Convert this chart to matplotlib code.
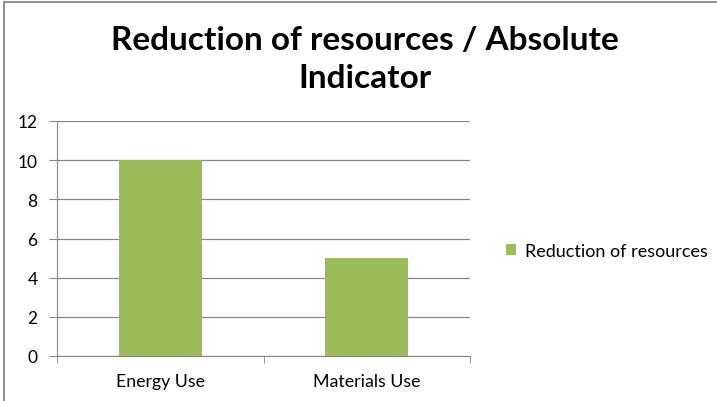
import matplotlib.pyplot as plt
from matplotlib.patches import Rectangle

# data
categories = ['Energy Use', 'Materials Use']
values = [10, 5]
series_name = 'Reduction of resources'
yticks = [0, 2, 4, 6, 8, 10, 12]

plt.rcParams['font.family'] = ['Lato', 'DejaVu Sans']

W, H = 717, 402
fig = plt.figure(figsize=(W / 100, H / 100), dpi=100)

# plot area in pixel coordinates
left, right, top, bottom = 57, 470, 122, 357
ax = fig.add_axes([left / W, 1 - bottom / H, (right - left) / W, (bottom - top) / H])

x = range(len(categories))
bars = ax.bar(x, values, width=0.4, color='#9BBB59', label=series_name, zorder=3)

ax.set_xlim(-0.5, len(categories) - 0.5)
ax.set_ylim(0, 12)
ax.set_yticks(yticks)
ax.set_xticks(list(x))
ax.set_xticklabels(categories, fontsize=12.8)
ax.tick_params(axis='x', length=0, pad=12)
ax.tick_params(axis='y', length=6, color='#868686', labelsize=12.5, pad=8)

# category boundary tick marks
ax.set_xticks([-0.5, 0.5, 1.5], minor=True)
ax.tick_params(axis='x', which='minor', length=5, color='#868686')

ax.grid(axis='y', color='#868686', linewidth=0.9, zorder=0)
for side in ['top', 'right']:
    ax.spines[side].set_visible(False)
ax.spines['left'].set_color('#868686')
ax.spines['bottom'].set_color('#868686')

fig.text(365 / W, 1 - 41 / H, 'Reduction of resources / Absolute', ha='center', va='center',
         fontsize=24, fontweight='bold')
fig.text(365 / W, 1 - 79 / H, 'Indicator', ha='center', va='center',
         fontsize=24, fontweight='bold')

fig.legend(handles=[bars], labels=[series_name], loc='center left',
           bbox_to_anchor=(490 / W, 1 - 252 / H), frameon=False, fontsize=13,
           handlelength=0.55, handleheight=0.55, handletextpad=0.5)

# outer chart border (left and top visible)
fig.patches.append(Rectangle((4 / W, -0.1), 1.2, 1 - 3 / H + 0.1, transform=fig.transFigure,
                             fill=False, edgecolor='#868686', linewidth=1.3))

fig.savefig('out.png', dpi=100)
